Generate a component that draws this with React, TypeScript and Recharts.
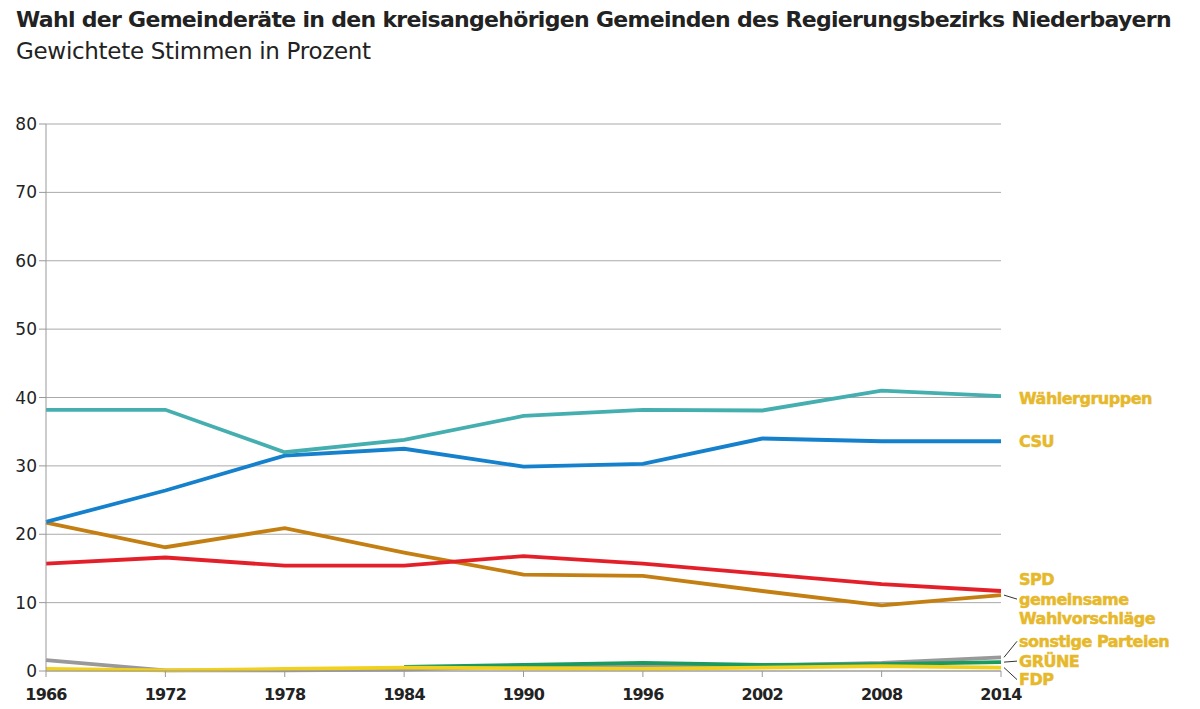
import React from 'react'
import { LineChart, Line, XAxis, YAxis, CartesianGrid } from 'recharts'

const years = ['1966', '1972', '1978', '1984', '1990', '1996', '2002', '2008', '2014']
const waehlergruppen = [38.2, 38.2, 32.0, 33.8, 37.3, 38.2, 38.1, 41.0, 40.2]
const csu = [21.8, 26.4, 31.5, 32.5, 29.9, 30.3, 34.0, 33.6, 33.6]
const gemeinsame = [21.7, 18.1, 20.9, 17.3, 14.1, 13.9, 11.7, 9.6, 11.1]
const spd = [15.7, 16.6, 15.4, 15.4, 16.8, 15.7, 14.2, 12.7, 11.7]
const sonstige = [1.6, 0.1, 0.1, 0.2, 0.7, 0.7, 0.8, 1.2, 2.0]
const gruene = [null, null, null, 0.6, 0.9, 1.2, 0.9, 1.0, 1.3]
const fdp = [0.3, 0.1, 0.3, 0.5, 0.4, 0.3, 0.5, 0.7, 0.5]
const yTicks = [0, 10, 20, 30, 40, 50, 60, 70, 80]

const data = years.map((year, i) => ({
  year,
  waehlergruppen: waehlergruppen[i],
  csu: csu[i],
  gemeinsame: gemeinsame[i],
  spd: spd[i],
  sonstige: sonstige[i],
  gruene: gruene[i],
  fdp: fdp[i],
}))

const GOLD = '#E6B82A'

// label text lines, vertical offset from the line end, and whether a leader line is drawn
const series = [
  { key: 'sonstige', color: '#999999', lines: ['sonstige Parteien'], dy: -16, leader: true },
  { key: 'gruene', color: '#1A9A5E', lines: ['GRÜNE'], dy: -1, leader: true },
  { key: 'fdp', color: '#F2D01E', lines: ['FDP'], dy: 12, leader: true },
  { key: 'gemeinsame', color: '#C47F13', lines: ['gemeinsame', 'Wahlvorschläge'], dy: 13, leader: true },
  { key: 'spd', color: '#E3202A', lines: ['SPD'], dy: -12, leader: false },
  { key: 'csu', color: '#1581CC', lines: ['CSU'], dy: 0, leader: false },
  { key: 'waehlergruppen', color: '#45AFB0', lines: ['Wählergruppen'], dy: 2, leader: false },
]

const makeLabel = (s: (typeof series)[number]) => (props: any) => {
  const { x, y, index } = props
  if (index !== years.length - 1) return null
  const tx = x + 18
  const ty = y + s.dy
  return (
    <g>
      {s.leader && (
        <line x1={x + 3} y1={y} x2={tx - 2} y2={ty + (s.lines.length > 1 ? -9 : 0)} stroke="#333" strokeWidth={1} />
      )}
      {s.lines.map((t, i) => (
        <text
          key={t}
          x={tx}
          y={ty + i * 19 - (s.lines.length > 1 ? 9 : 0)}
          dominantBaseline="central"
          fill={GOLD}
          stroke={GOLD}
          strokeWidth={0.5}
          fontFamily="DejaVu Sans"
          fontWeight="bold"
          fontSize={16}
          letterSpacing={-0.5}
        >
          {t}
        </text>
      ))}
    </g>
  )
}

export default function App() {
  return (
    <div style={{ position: 'absolute', left: 0, top: 0, width: 1200, height: 709, background: '#fff', fontFamily: 'DejaVu Sans' }}>
      <div style={{ position: 'absolute', left: 16, top: 7, fontSize: 22, fontWeight: 'bold', color: '#222', letterSpacing: -0.7, whiteSpace: 'nowrap' }}>
        Wahl der Gemeinderäte in den kreisangehörigen Gemeinden des Regierungsbezirks Niederbayern
      </div>
      <div style={{ position: 'absolute', left: 16, top: 38, fontSize: 23, color: '#222', letterSpacing: -0.3, whiteSpace: 'nowrap' }}>
        Gewichtete Stimmen in Prozent
      </div>
      <LineChart width={1200} height={709} data={data} margin={{ top: 124, right: 199, left: 0, bottom: 6 }}>
        <CartesianGrid vertical={false} stroke="#aaaaaa" strokeWidth={1} />
        <XAxis
          dataKey="year"
          height={32}
          stroke="#999"
          tickSize={6}
          tickMargin={12}
          tick={{ fill: '#222', fontSize: 16, fontWeight: 'bold', fontFamily: 'DejaVu Sans', letterSpacing: -0.8 }}
          tickLine={{ stroke: '#999' }}
          interval={0}
        />
        <YAxis
          width={46}
          domain={[0, 80]}
          ticks={yTicks}
          stroke="#999"
          tickSize={7}
          tick={{ fill: '#222', fontSize: 17, fontFamily: 'DejaVu Sans' }}
        />
        {series.map((s) => (
          <Line
            key={s.key}
            dataKey={s.key}
            stroke={s.color}
            strokeWidth={3.8}
            dot={false}
            activeDot={false}
            isAnimationActive={false}
            connectNulls={false}
            label={makeLabel(s)}
          />
        ))}
      </LineChart>
    </div>
  )
}
